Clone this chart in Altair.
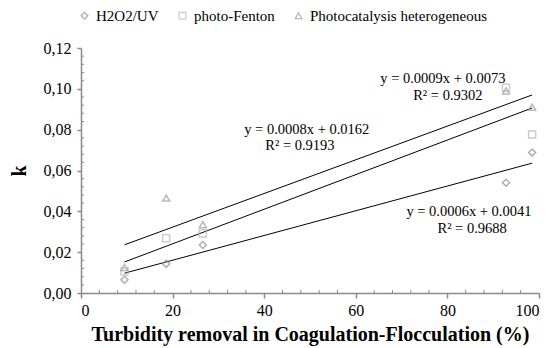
import altair as alt
import pandas as pd

# ---- data ----
series_names = ["H2O2/UV", "photo-Fenton", "Photocatalysis heterogeneous"]
turbidity = [9.5, 18.6, 26.6, 92.8, 98.5]
k_h2o2 = [0.0065, 0.0143, 0.0235, 0.0540, 0.0688]
k_fenton = [0.0105, 0.0268, 0.0292, 0.1005, 0.0776]
k_photocat = [0.0125, 0.0465, 0.0335, 0.0990, 0.0910]

# trend-line end points (as drawn)
trend_x = [9.5, 98.5]
trend_h2o2 = [0.0097, 0.0636]
trend_mid = [0.0152, 0.0906]
trend_top = [0.0236, 0.0970]

# equation labels
label_text = ["y = 0.0009x + 0.0073", "R² = 0.9302",
              "y = 0.0008x + 0.0162", "R² = 0.9193",
              "y = 0.0006x + 0.0041", "R² = 0.9688"]
label_x = [79.0, 80.1, 49.3, 47.8, 84.7, 85.4]
label_y = [0.1048, 0.0965, 0.0798, 0.0720, 0.0397, 0.0313]

x_major = [0, 20, 40, 60, 80, 100]
y_major = [0.0, 0.02, 0.04, 0.06, 0.08, 0.10, 0.12]
x_minor = [v for v in range(4, 100, 4) if v % 20 != 0]
y_minor = [round(i * 0.004, 3) for i in range(1, 30) if i % 5 != 0]

W, H = 458, 245
FONT = "Liberation Serif"
GRAY = "#8a8a8a"

pts = pd.DataFrame(
    [{"series": series_names[0], "x": a, "k": b} for a, b in zip(turbidity, k_h2o2)]
    + [{"series": series_names[1], "x": a, "k": b} for a, b in zip(turbidity, k_fenton)]
    + [{"series": series_names[2], "x": a, "k": b} for a, b in zip(turbidity, k_photocat)]
)
trends = pd.DataFrame(
    [{"line": "a", "x": a, "k": b} for a, b in zip(trend_x, trend_h2o2)]
    + [{"line": "b", "x": a, "k": b} for a, b in zip(trend_x, trend_mid)]
    + [{"line": "c", "x": a, "k": b} for a, b in zip(trend_x, trend_top)]
)
labels = pd.DataFrame({"text": label_text, "x": label_x, "k": label_y})

xs = alt.Scale(domain=[0, 100], nice=False)
ys = alt.Scale(domain=[0, 0.12], nice=False)

x_axis = alt.Axis(values=x_major, title="Turbidity removal in Coagulation-Flocculation (%)",
                  grid=False, labelFont=FONT, labelFontSize=16, labelColor="black",
                  titleFont=FONT, titleFontSize=20, titleFontWeight="bold", titleColor="black",
                  domainColor=GRAY, domainWidth=1.5, tickColor=GRAY, tickSize=5, tickWidth=1.5,
                  labelPadding=4, titlePadding=6)
y_axis = alt.Axis(values=y_major, title="k", grid=False,
                  labelExpr="replace(format(datum.value, '.2f'), '.', ',')",
                  labelFont=FONT, labelFontSize=16, labelColor="black",
                  titleFont=FONT, titleFontSize=20, titleFontWeight="bold", titleColor="black",
                  domainColor=GRAY, domainWidth=1.5, tickColor=GRAY, tickSize=4, tickWidth=1.5,
                  labelPadding=6, titlePadding=14)

points = alt.Chart(pts).mark_point(filled=False, size=50, strokeWidth=1.5).encode(
    x=alt.X("x:Q", scale=xs, axis=x_axis),
    y=alt.Y("k:Q", scale=ys, axis=y_axis),
    shape=alt.Shape("series:N", scale=alt.Scale(domain=series_names,
                    range=["diamond", "square", "triangle-up"]), title=None),
    color=alt.Color("series:N", scale=alt.Scale(domain=series_names,
                    range=["#8c8c8c", "#b8b8b8", "#9c9c9c"]), title=None),
)

lines = alt.Chart(trends).mark_line(color="black", strokeWidth=1).encode(
    x=alt.X("x:Q", scale=xs), y=alt.Y("k:Q", scale=ys), detail="line:N")

texts = alt.Chart(labels).mark_text(font=FONT, fontSize=14.5, color="black", baseline="middle").encode(
    x=alt.X("x:Q", scale=xs), y=alt.Y("k:Q", scale=ys), text="text:N")

xminor = alt.Chart(pd.DataFrame({"x": x_minor})).mark_rule(color=GRAY, strokeWidth=1).encode(
    x=alt.X("x:Q", scale=xs), y=alt.value(H), y2=alt.value(H - 3))
yminor = alt.Chart(pd.DataFrame({"k": y_minor})).mark_rule(color=GRAY, strokeWidth=1).encode(
    y=alt.Y("k:Q", scale=ys), x=alt.value(0), x2=alt.value(3))

chart = alt.layer(xminor, yminor, lines, points, texts).properties(
    width=W, height=H,
    autosize=alt.AutoSizeParams(type="none"),
    padding={"left": 73, "top": 40, "right": 5, "bottom": 54},
).configure_view(stroke=None).configure_axis(
    labelFont=FONT, titleFont=FONT,
).configure_legend(
    orient="none", legendX=-4, legendY=-40, direction="horizontal",
    labelFont=FONT, labelFontSize=15, labelColor="black", symbolSize=45, labelLimit=400,
    symbolStrokeWidth=1.3, columnPadding=16, labelOffset=4,
)

chart.save("out.html", embed_options={"renderer": "svg", "actions": False})
